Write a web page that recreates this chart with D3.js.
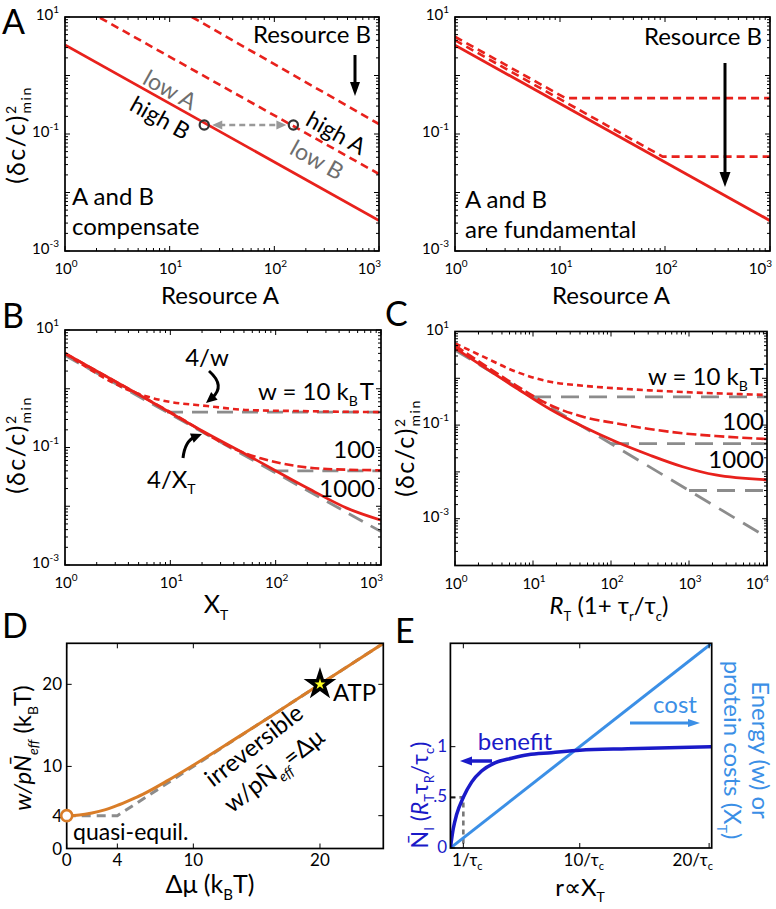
<!DOCTYPE html>
<html><head><meta charset="utf-8">
<script src="https://cdn.jsdelivr.net/npm/d3@7"></script>
<style>body{margin:0;background:#fff} svg{display:block} text{font-family:Lato,'Open Sans',sans-serif}</style>
</head><body><script>
// ================= DATA =================
const logX3 = [1, 10, 100, 1000];
const logX3Exp = ["0", "1", "2", "3"];
const logX4 = [1, 10, 100, 1000, 10000];
const logX4Exp = ["0", "1", "2", "3", "4"];
const logYLab = [10, 0.1, 0.001];
const logYLabExp = ["1", "-1", "-3"];

// Panel A left: "A and B compensate"
const A1_solid = [[1, 3.32], [1000, 0.00332]];
const A1_dashMid = [[2.16, 9.7], [1000, 0.0207]];
const A1_dashHigh = [[16.3, 10], [1000, 0.148]];
const A1_points = [[21.4, 0.1425], [152, 0.1425]];
// Panel A right: "A and B are fundamental"
const A2_solid = [[1, 3.3], [1000, 0.0033]];
const A2_dash1 = [[1, 4.6], [11.3, 0.41], [1000, 0.41]];
const A2_dash2 = [[1, 4.0], [95, 0.041], [1000, 0.041]];

// Panel B: (dc/c)^2 vs X_T
const B_grayDiag = [[1, 3.7], [1000, 0.0037]];
const B_grayPlat = [[[9.3, 0.4], [1000, 0.4]], [[93, 0.04], [1000, 0.04]]];
const B_w1000 = [[1, 4.0], [5, 0.8], [20.8, 0.185], [54, 0.074], [200, 0.0205], [480, 0.0092], [1000, 0.0058]];
const B_w100 = [[1, 4.0], [10, 0.4], [46, 0.086], [72, 0.0655], [150, 0.049], [310, 0.043], [1000, 0.041]];
const B_w10 = [[1, 4.0], [4.8, 0.84], [8, 0.644], [22.4, 0.508], [54, 0.435], [150, 0.418], [1000, 0.40]];

// Panel C: (dc/c)^2 vs R_T(1+tau_r/tau_c)
const C_grayDiag = [[1, 4], [10000, 0.0004]];
const C_grayPlat = [[[10, 0.4], [10000, 0.4]], [[100, 0.04], [10000, 0.04]], [[1000, 0.004], [10000, 0.004]]];
const C_w1000 = [[1, 4.4], [6.1, 0.62], [16.4, 0.22], [43.6, 0.093], [116, 0.044], [310, 0.023], [830, 0.0129], [2200, 0.0086], [10000, 0.0068]];
const C_w100 = [[1, 5.0], [2.3, 1.99], [6.1, 0.70], [16.4, 0.27], [43.6, 0.151], [116, 0.109], [310, 0.0826], [830, 0.0668], [2200, 0.0585], [10000, 0.0505]];
const C_w10 = [[1, 5.6], [2.3, 2.9], [6.1, 1.38], [16.4, 0.845], [43.6, 0.695], [116, 0.61], [310, 0.553], [830, 0.51], [10000, 0.44]];

// Panel D
const D_ticks = [0, 4, 10, 20];
const D_dmu = [0, 1, 2, 3, 4, 5, 6, 8, 10, 13, 16, 20, 25];
const D_cost = [4, 4.08, 4.33, 4.7, 5.25, 5.9, 6.6, 8.3, 10.15, 13.05, 16.0, 20.0, 25.0];
const D_bound = [[0, 4], [4, 4], [25, 25]];
const D_atp = [20, 20];
const D_quasi = [0, 4];

// Panel E
const E_xTicks = [1, 10, 20];
const E_xTickNum = ["1", "10", "20"];
const E_yTicks = [0, 0.5, 1];
const E_yTickLab = ["0", ".5", "1"];
const E_benefit = [[0, 0], [0.22, 0.19], [0.48, 0.33], [1, 0.5], [1.64, 0.65], [2.41, 0.76], [3.44, 0.84], [4.73, 0.885], [6, 0.92], [7.8, 0.94], [10, 0.965], [13.7, 0.98], [20.2, 1.0]];
const E_cost = [[0, 0], [20.2, 20.2]];
const E_guide = [[0, 0.5], [1, 0.5], [1, 0]];

// ================= DRAWING =================
const RED = "#e8211c", GRAY = "#8c8c8c", ORANGE = "#d97d28", DBLUE = "#1a1ac8", LBLUE = "#3b8fe6";
const svg = d3.select("body").append("svg").attr("width", 776).attr("height", 909);
let clipN = 0;

function rich(g, x, y, parts, o = {}) {
  const t = g.append("text").attr("font-size", o.size || 24).attr("fill", o.fill || "#000")
    .attr("text-anchor", o.anchor || "start");
  if (o.transform) t.attr("transform", o.transform).attr("x", 0).attr("y", 0);
  else t.attr("x", x).attr("y", y);
  if (o.fam) t.attr("font-family", o.fam);
  if (o.ls) t.attr("letter-spacing", o.ls);
  let cur = 0;
  parts.forEach(p => {
    const s = t.append("tspan").text(p.t);
    const off = p.off || 0;
    if (off !== cur) s.attr("dy", off - cur);
    cur = off;
    if (p.size) s.attr("font-size", p.size);
    if (p.it) s.attr("font-style", "italic");
    if (p.dx) s.attr("dx", p.dx);
    if (p.fam) s.attr("font-family", p.fam);
  });
  return t;
}

function arrowHead(g, x, y, ang, len, wid, color) {
  const bx = x - len * Math.cos(ang), by = y - len * Math.sin(ang);
  const nx = -Math.sin(ang) * wid / 2, ny = Math.cos(ang) * wid / 2;
  g.append("polygon").attr("points", `${x},${y} ${bx + nx},${by + ny} ${bx - nx},${by - ny}`).attr("fill", color);
}
function arrow(g, x1, y1, x2, y2, o) {
  const a = Math.atan2(y2 - y1, x2 - x1);
  const L = o.len, k = 0.7;
  const sx = o.both ? x1 + L * k * Math.cos(a) : x1, sy = o.both ? y1 + L * k * Math.sin(a) : y1;
  const ln = g.append("line").attr("x1", sx).attr("y1", sy)
    .attr("x2", x2 - L * k * Math.cos(a)).attr("y2", y2 - L * k * Math.sin(a))
    .attr("stroke", o.color).attr("stroke-width", o.w);
  if (o.dash) ln.attr("stroke-dasharray", o.dash);
  arrowHead(g, x2, y2, a, L, o.wid, o.color);
  if (o.both) arrowHead(g, x1, y1, a + Math.PI, L, o.wid, o.color);
}
function curvedArrow(g, x1, y1, cx, cy, x2, y2, o) {
  const a = Math.atan2(y2 - cy, x2 - cx);
  const ex = x2 - o.len * 0.7 * Math.cos(a), ey = y2 - o.len * 0.7 * Math.sin(a);
  g.append("path").attr("d", `M${x1},${y1} Q${cx},${cy} ${ex},${ey}`).attr("fill", "none")
    .attr("stroke", o.color).attr("stroke-width", o.w);
  arrowHead(g, x2, y2, a, o.len, o.wid, o.color);
}

function frame(x0, x1, y0, y1) {
  const id = "clip" + (clipN++);
  svg.append("clipPath").attr("id", id).append("rect").attr("x", x0).attr("y", y0).attr("width", x1 - x0).attr("height", y1 - y0);
  const g = svg.append("g");
  const plot = g.append("g").attr("clip-path", `url(#${id})`);
  const top = svg.append("g");
  return { g, plot, top };
}
function box(g, x0, x1, y0, y1) {
  g.append("rect").attr("x", x0).attr("y", y0).attr("width", x1 - x0).attr("height", y1 - y0)
    .attr("fill", "none").attr("stroke", "#000").attr("stroke-width", 1.7);
}
function tick(g, x1, y1, x2, y2) {
  g.append("line").attr("x1", x1).attr("y1", y1).attr("x2", x2).attr("y2", y2).attr("stroke", "#000").attr("stroke-width", 1);
}
function logTickVals([a, b]) {
  const out = [];
  for (let e = Math.floor(Math.log10(a) + 1e-9); e <= Math.ceil(Math.log10(b)); e++)
    for (let m = 1; m <= 9; m++) { const v = m * Math.pow(10, e); if (v >= a * 0.9999 && v <= b * 1.0001) out.push({ v, major: m === 1 }); }
  return out;
}
function powLabel(g, px, py, exp, anchor) {
  const t = g.append("text").attr("x", px).attr("y", py).attr("text-anchor", anchor).attr("font-size", 15);
  t.append("tspan").text("10");
  t.append("tspan").attr("dy", -7).attr("font-size", 10).text(exp);
}
function logPanel(x0, x1, y0, y1, xDom, yDom, xT, xE) {
  const f = frame(x0, x1, y0, y1);
  const x = d3.scaleLog().domain(xDom).range([x0, x1]);
  const y = d3.scaleLog().domain(yDom).range([y1, y0]);
  logTickVals(xDom).forEach(t => { const p = x(t.v), L = t.major ? 5 : 3; tick(f.top, p, y1, p, y1 - L); tick(f.top, p, y0, p, y0 + L); });
  logTickVals(yDom).forEach(t => { const p = y(t.v), L = t.major ? 5 : 3; tick(f.top, x0, p, x0 + L, p); tick(f.top, x1, p, x1 - L, p); });
  box(f.top, x0, x1, y0, y1);
  xT.forEach((v, i) => {
    const last = i === xT.length - 1;
    if (last) powLabel(f.top, Math.min(x(v) + 2, 773), y1 + 23, xE[i], "end");
    else powLabel(f.top, x(v) + 1, y1 + 23, xE[i], "middle");
  });
  logYLab.forEach((v, i) => { if (v >= yDom[0] && v <= yDom[1]) powLabel(f.top, x0 - 6, y(v) + 3, logYLabExp[i], "end"); });
  f.x = x; f.y = y;
  return f;
}
function path(f, data, color, w, dash, curve) {
  const line = d3.line().x(d => f.x(d[0])).y(d => f.y(d[1]));
  if (curve) line.curve(d3.curveMonotoneX);
  const p = f.plot.append("path").attr("d", line(data)).attr("fill", "none").attr("stroke", color).attr("stroke-width", w);
  if (dash) p.attr("stroke-dasharray", dash);
  return p;
}
function yLabelDelta(g, cx, cy) {
  rich(g, 0, 0, [{ t: "(δc/c)" }, { t: "2", off: -9, size: 14 }, { t: "min", off: 6, size: 14, dx: -9 }],
    { size: 25, anchor: "middle", ls: 1.5, transform: `translate(${cx},${cy}) rotate(-90)` });
}
function letter(x, y, s) { svg.append("text").attr("x", x).attr("y", y).attr("font-size", 34).text(s); }

// ---------- Panel A left
const pA1 = logPanel(65, 379, 17, 251, [1, 1000], [1e-3, 10], logX3, logX3Exp);
path(pA1, A1_dashHigh, RED, 2.6, "8,5");
path(pA1, A1_dashMid, RED, 2.6, "8,5");
path(pA1, A1_solid, RED, 2.8);
arrow(pA1.top, pA1.x(A1_points[0][0]) + 8, pA1.y(A1_points[0][1]), pA1.x(A1_points[1][0]) - 7, pA1.y(A1_points[1][1]),
  { color: "#999", w: 2.5, len: 10, wid: 9, dash: "6,4", both: true });
pA1.top.selectAll("circle.pt").data(A1_points).enter().append("circle")
  .attr("cx", d => pA1.x(d[0])).attr("cy", d => pA1.y(d[1])).attr("r", 4.6)
  .attr("fill", "none").attr("stroke", "#333").attr("stroke-width", 2.2);
pA1.top.append("text").attr("x", 312).attr("y", 43).attr("text-anchor", "middle").attr("font-size", 24).text("Resource B");
arrow(pA1.top, 355, 55, 355, 96, { color: "#000", w: 3, len: 14, wid: 10 });
const rotT = (g, cx, cy, s, col, ang) => g.append("text").attr("transform", `translate(${cx},${cy}) rotate(${ang})`)
  .attr("text-anchor", "middle").attr("dy", "0.35em").attr("font-size", 23).attr("fill", col).text(s);
rotT(pA1.top, 170, 90, "low A", "#6e6e6e", 29);
rotT(pA1.top, 160, 118, "high B", "#000", 29);
rotT(pA1.top, 336, 133, "high A", "#000", 29);
rotT(pA1.top, 317, 160, "low B", "#6e6e6e", 29);
pA1.top.append("text").attr("x", 72).attr("y", 205).attr("font-size", 24).text("A and B");
pA1.top.append("text").attr("x", 72).attr("y", 235).attr("font-size", 24).text("compensate");
yLabelDelta(svg, 25, 135);
svg.append("text").attr("x", 220).attr("y", 304).attr("text-anchor", "middle").attr("font-size", 24).text("Resource A");

// ---------- Panel A right
const pA2 = logPanel(455, 770, 17, 251, [1, 1000], [1e-3, 10], logX3, logX3Exp);
path(pA2, A2_dash1, RED, 2.6, "8,5");
path(pA2, A2_dash2, RED, 2.6, "8,5");
path(pA2, A2_solid, RED, 2.8);
pA2.top.append("text").attr("x", 703).attr("y", 45).attr("text-anchor", "middle").attr("font-size", 24).text("Resource B");
arrow(pA2.top, 725, 63, 725, 187, { color: "#000", w: 3, len: 15, wid: 11 });
pA2.top.append("text").attr("x", 465).attr("y", 208).attr("font-size", 24).text("A and B");
pA2.top.append("text").attr("x", 465).attr("y", 238).attr("font-size", 24).text("are fundamental");
svg.append("text").attr("x", 611).attr("y", 304).attr("text-anchor", "middle").attr("font-size", 24).text("Resource A");

// ---------- Panel B
const pB = logPanel(65, 381, 330, 565, [1, 1000], [1e-3, 10], logX3, logX3Exp);
path(pB, B_grayDiag, GRAY, 2.8, "16,9");
B_grayPlat.forEach(d => path(pB, d, GRAY, 2.8, "16,9"));
path(pB, B_w10, RED, 2.6, "6,4", true);
path(pB, B_w100, RED, 2.6, "9,4", true);
path(pB, B_w1000, RED, 2.8, null, true);
rich(pB.top, 374, 400, [{ t: "w = 10 k" }, { t: "B", off: 6, size: 14 }, { t: "T", off: 0, dx: 2 }], { anchor: "end", size: 24 });
pB.top.append("text").attr("x", 375).attr("y", 458).attr("text-anchor", "end").attr("font-size", 24).text("100");
pB.top.append("text").attr("x", 375).attr("y", 497).attr("text-anchor", "end").attr("font-size", 24).text("1000");
pB.top.append("text").attr("x", 207).attr("y", 366).attr("text-anchor", "middle").attr("font-size", 24).text("4/w");
curvedArrow(pB.top, 209, 371, 226, 386, 206, 403, { color: "#000", w: 3, len: 11, wid: 10 });
rich(pB.top, 147, 488, [{ t: "4/X" }, { t: "T", off: 6, size: 14 }], { size: 24 });
curvedArrow(pB.top, 183, 458, 185, 441, 202, 434, { color: "#000", w: 3, len: 11, wid: 10 });
yLabelDelta(svg, 25, 445);
rich(svg, 216, 613, [{ t: "X" }, { t: "T", off: 7, size: 14 }], { anchor: "middle", size: 25 });

// ---------- Panel C
const pC = logPanel(455, 767, 331.5, 565.5, [1, 10000], [1e-4, 10], logX4, logX4Exp);
path(pC, C_grayDiag, GRAY, 2.8, "18,10");
C_grayPlat.forEach(d => path(pC, d, GRAY, 2.8, "18,10"));
path(pC, C_w10, RED, 2.6, "6,4", true);
path(pC, C_w100, RED, 2.6, "10,4", true);
path(pC, C_w1000, RED, 2.8, null, true);
rich(pC.top, 764, 385, [{ t: "w = 10 k" }, { t: "B", off: 6, size: 14 }, { t: "T", off: 0, dx: 2 }], { anchor: "end", size: 24 });
pC.top.append("text").attr("x", 764).attr("y", 430).attr("text-anchor", "end").attr("font-size", 24).text("100");
pC.top.append("text").attr("x", 764).attr("y", 468).attr("text-anchor", "end").attr("font-size", 24).text("1000");
yLabelDelta(svg, 414, 448);
rich(svg, 609, 614, [{ t: "R", it: true }, { t: "T", off: 7, size: 13 }, { t: " (1+ τ", off: 0 }, { t: "r", off: 7, size: 13 }, { t: "/τ", off: 0 }, { t: "c", off: 7, size: 13 }, { t: ")", off: 0 }], { anchor: "middle", size: 24 });

// ---------- Panel D
const fD = frame(66.7, 383.3, 643.3, 848.5);
fD.x = d3.scaleLinear().domain([0, 25]).range([66.7, 383.3]);
fD.y = d3.scaleLinear().domain([0, 25]).range([848.5, 643.3]);
D_ticks.forEach(v => {
  const px = fD.x(v), py = fD.y(v);
  tick(fD.top, px, 848.5, px, 843.5); tick(fD.top, px, 643.3, px, 648.3);
  tick(fD.top, 66.7, py, 71.7, py); tick(fD.top, 383.3, py, 378.3, py);
  fD.top.append("text").attr("x", px).attr("y", 866).attr("text-anchor", "middle").attr("font-size", 17).text(v);
  fD.top.append("text").attr("x", 62).attr("y", py + 6).attr("text-anchor", "end").attr("font-size", 17).text(v);
});
box(fD.top, 66.7, 383.3, 643.3, 848.5);
path(fD, D_bound, GRAY, 3, "9,6");
path(fD, D_dmu.map((v, i) => [v, D_cost[i]]), ORANGE, 3, null, true);
fD.top.append("circle").attr("cx", fD.x(D_quasi[0])).attr("cy", fD.y(D_quasi[1])).attr("r", 5.5)
  .attr("fill", "#fff").attr("stroke", ORANGE).attr("stroke-width", 2.6);
fD.top.append("path").attr("d", d3.symbol(d3.symbolStar, 150)())
  .attr("transform", `translate(${fD.x(D_atp[0])},${fD.y(D_atp[1])})`)
  .attr("fill", "#ffff20").attr("stroke", "#000").attr("stroke-width", 3.5).attr("stroke-linejoin", "miter");
fD.top.append("text").attr("x", 333).attr("y", 701).attr("font-size", 24).text("ATP");
fD.top.append("text").attr("x", 73).attr("y", 840).attr("font-size", 23).text("quasi-equil.");
fD.top.append("text").attr("transform", "translate(259,752) rotate(-38)").attr("text-anchor", "middle").attr("font-size", 24).text("irreversible");
rich(fD.top, 0, 0, [{ t: "w/pN\u0304" }, { t: "eff", off: 7, size: 14, it: true }, { t: "=Δμ", off: 0 }],
  { size: 24, anchor: "middle", transform: "translate(279,777) rotate(-38)" });
rich(svg, 0, 0, [{ t: "w/pN\u0304", it: true }, { t: "eff", off: 7, size: 14, it: true }, { t: " (k", off: 0 }, { t: "B", off: 7, size: 14 }, { t: "T)", off: 0 }],
  { size: 24, anchor: "middle", transform: "translate(31,748) rotate(-90)" });
rich(svg, 210, 893, [{ t: "Δμ (k" }, { t: "B", off: 7, size: 15 }, { t: "T)", off: 0 }], { anchor: "middle", size: 25 });

// ---------- Panel E
const fE = frame(450.4, 711.7, 643.3, 848);
fE.x = d3.scaleLinear().domain([0, 20.2]).range([450.4, 711.7]);
fE.y = d3.scaleLinear().domain([0, 2.02]).range([848, 643.3]);
const yR = d3.scaleLinear().domain([0, 20.2]).range([848, 643.3]);
E_xTicks.forEach((v, i) => {
  const px = fE.x(v);
  tick(fE.top, px, 848, px, 843); tick(fE.top, px, 643.3, px, 648.3);
  const last = i === E_xTicks.length - 1;
  rich(fE.top, last ? 713 : px + 4, 866, [{ t: E_xTickNum[i] + "/τ" }, { t: "c", off: 4, size: 11 }],
    { size: 17, anchor: last ? "end" : "middle", fam: "'Liberation Serif','Times New Roman',serif" });
});
E_yTicks.forEach((v, i) => {
  const py = fE.y(v);
  tick(fE.top, 450.4, py, 455.4, py);
  fE.top.append("text").attr("x", 447).attr("y", py + 5).attr("text-anchor", "end").attr("font-size", 17).attr("fill", DBLUE).text(E_yTickLab[i]);
});
box(fE.top, 450.4, 711.7, 643.3, 848);
path(fE, E_guide, "#777", 2.6, "5,4");
fE.plot.append("path").attr("d", d3.line().x(d => fE.x(d[0])).y(d => yR(d[1]))(E_cost)).attr("fill", "none").attr("stroke", LBLUE).attr("stroke-width", 3);
path(fE, E_benefit, DBLUE, 3.5, null, true);
fE.top.append("text").attr("x", 515).attr("y", 750).attr("text-anchor", "middle").attr("font-size", 24).attr("fill", DBLUE).text("benefit");
arrow(fE.top, 492, 761, 460, 761, { color: DBLUE, w: 3.5, len: 12, wid: 9 });
fE.top.append("text").attr("x", 675).attr("y", 713).attr("text-anchor", "middle").attr("font-size", 24).attr("fill", LBLUE).text("cost");
arrow(fE.top, 630, 723, 700, 723, { color: LBLUE, w: 3, len: 12, wid: 8 });
rich(svg, 0, 0, [{ t: "N\u0304" }, { t: "I", off: 6, size: 13 }, { t: " (", off: 0 }, { t: "R", it: true, off: 0 }, { t: "T", off: 6, size: 13 }, { t: "τ", off: 0 }, { t: "R", off: 6, size: 13 }, { t: "/τ", off: 0 }, { t: "c", off: 6, size: 13 }, { t: ")", off: 0 }],
  { size: 23, fill: DBLUE, anchor: "middle", transform: "translate(428,795) rotate(-90)" });
svg.append("text").attr("transform", "translate(752,750) rotate(90)").attr("text-anchor", "middle").attr("font-size", 24).attr("fill", LBLUE).text("Energy (w) or");
rich(svg, 0, 0, [{ t: "protein costs (X" }, { t: "T", off: 7, size: 14 }, { t: ")", off: 0 }],
  { size: 24, fill: LBLUE, anchor: "middle", transform: "translate(724,750) rotate(90)" });
rich(svg, 580, 896, [{ t: "r∝X" }, { t: "T", off: 6, size: 14 }], { anchor: "middle", size: 24 });

// ---------- panel letters
letter(2, 34, "A"); letter(2, 328, "B"); letter(385, 326, "C"); letter(2, 638, "D"); letter(395, 643, "E");
</script></body></html>
